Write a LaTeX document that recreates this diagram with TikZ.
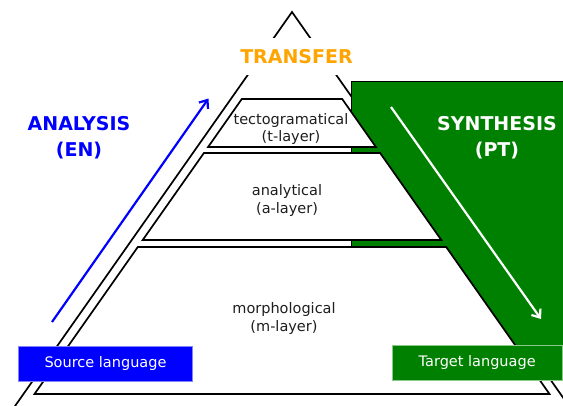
\documentclass[tikz,border=0pt]{standalone}
\usepackage{fontspec}
\setmainfont{DejaVu Sans}
\usetikzlibrary{arrows.meta}
\definecolor{srcblue}{RGB}{0,0,255}
\definecolor{srcedge}{RGB}{130,130,255}
\definecolor{tgtgreen}{RGB}{0,128,0}
\definecolor{tgtedge}{RGB}{140,200,140}
\definecolor{transorange}{RGB}{255,165,0}
\definecolor{labelgray}{RGB}{30,30,30}

\begin{document}
\begin{tikzpicture}[x=1pt,y=-1pt,
  edge/.style={draw=black, line width=1.7pt, line join=miter},
  layer/.style={edge, fill=white},
  layertext/.style={font=\fontsize{14.5}{17.5}\selectfont, text=labelgray, align=center, inner sep=0pt},
  bigtext/.style={font=\fontsize{19}{25.5}\selectfont\bfseries, align=center, inner sep=0pt},
  langbox/.style={font=\fontsize{14.5}{17.5}\selectfont, text=white, inner sep=0pt, line width=0.8pt},
  flow/.style={line width=2.2pt, -{Straight Barb[length=7pt,width=11pt]}}
]
\useasboundingbox (0,0) rectangle (563,405);
\clip (0,0) rectangle (563,405);

% outer pyramid
\draw[edge] (5.2,420) -- (292,12) -- (578.8,420);

% stage title, its white box breaks the pyramid sides
\node[fill=white, text=transorange, font=\fontsize{19}{25.5}\selectfont\bfseries,
      minimum height=37, inner xsep=2pt, inner ysep=0pt] (transfer) at (296.5,56.3) {TRANSFER};

% synthesis side
\draw[fill=tgtgreen, draw=black, line width=1pt] (351,81) -- (600,81) -- (600,350) -- (351,350) -- cycle;

% layers
\draw[layer] (241.8,99) -- (342.2,99) -- (375.9,147) -- (208.1,147) -- cycle;
\draw[layer] (203.9,153) -- (380.1,153) -- (441.3,240) -- (142.7,240) -- cycle;
\draw[layer] (137.8,247) -- (446.2,247) -- (549.5,394) -- (34.5,394) -- cycle;

\node[layertext] (tlayer) at (291,129) {tectogramatical\\(t-layer)};
\node[layertext] (alayer) at (287,200.7) {analytical\\(a-layer)};
\node[layertext] (mlayer) at (284,318.7) {morphological\\(m-layer)};

% stage labels
\node[bigtext, text=srcblue] (analysis) at (79,137.6) {ANALYSIS\\(EN)};
\node[bigtext, text=white] (synthesis) at (497,137.9) {SYNTHESIS\\(PT)};

% direction arrows
\coordinate (upstart) at (52,322);
\coordinate (upend) at (208.5,98.5);
\coordinate (downstart) at (391,107);
\coordinate (downend) at (541,319);
\draw[flow, srcblue] (upstart) -- (upend);
\draw[flow, white] (downstart) -- (downend);

% language boxes
\node[langbox, fill=srcblue, draw=srcedge, minimum width=174.4, minimum height=35] (source) at (105.5,363.5) {Source language};
\node[langbox, fill=tgtgreen, draw=tgtedge, minimum width=169.7, minimum height=34.5] (target) at (477.2,362.8) {Target language};
\end{tikzpicture}
\end{document}
